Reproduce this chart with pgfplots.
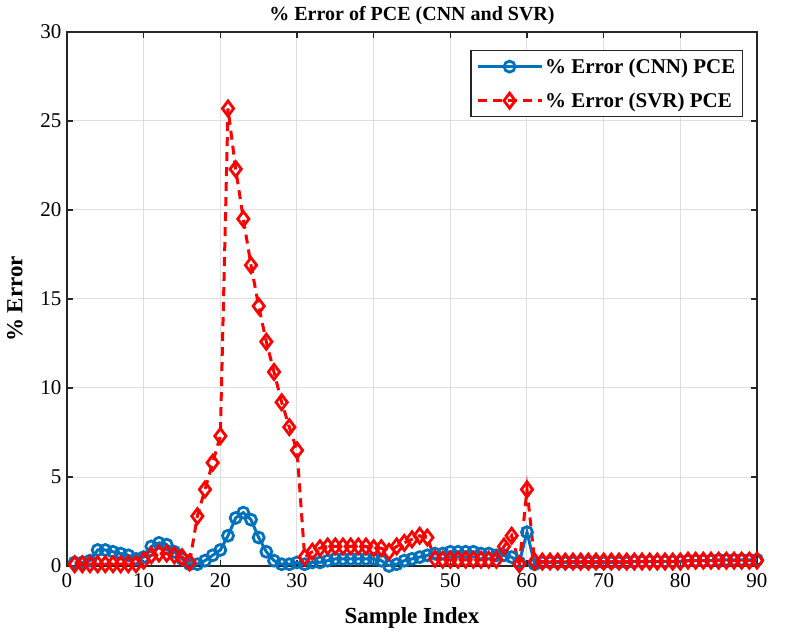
\documentclass[border=0pt]{standalone}
\usepackage{pgfplots}
\pgfplotsset{compat=1.18}
\usepackage{fontspec}
\setmainfont{Liberation Serif}
\definecolor{cnnblue}{RGB}{0,114,189}
\definecolor{svrred}{RGB}{255,0,0}
\definecolor{axgray}{RGB}{38,38,38}

\begin{document}
\begin{tikzpicture}
\useasboundingbox (-67bp,-72bp) rectangle (721bp,566bp);
\begin{axis}[
  scale only axis,
  width=690bp, height=534bp,
  xmin=0, xmax=90, ymin=0, ymax=30,
  xtick={0,10,...,90}, ytick={0,5,...,30},
  grid=major,
  grid style={gray!25, line width=1bp},
  axis line style={axgray, line width=1.2bp},
  tick style={axgray, line width=1.2bp},
  tick align=inside,
  major tick length=6bp,
  /pgf/number format/assume math mode=true,
  tick label style={font=\fontsize{21bp}{24bp}\selectfont, text=black},
  xticklabel style={yshift=-4bp},
  yticklabel style={xshift=-2bp},
  every axis title shift=0pt,
  title={\textbf{\% Error of PCE (CNN and SVR)}},
  title style={at={(axis description cs:0.5,1.030)}, anchor=center,
    font=\fontsize{20bp}{24bp}\selectfont},
  xlabel={\textbf{Sample Index}},
  xlabel style={at={(axis description cs:0.5,-0.097)}, anchor=center,
    font=\fontsize{23bp}{26bp}\selectfont},
  ylabel={\textbf{\% Error}},
  ylabel style={at={(axis description cs:-0.0754,0.5)}, anchor=center, rotate=0,
    font=\fontsize{23bp}{26bp}\selectfont},
  legend style={at={(axis description cs:0.9797,0.9663)}, anchor=north east,
    draw=axgray, line width=1.2bp, fill=white,
    font=\fontsize{21bp}{24bp}\selectfont\bfseries,
    inner xsep=5bp, inner ysep=6bp, row sep=14bp},
  legend cell align=left,
  legend image code/.code={%
    \draw[mark repeat=2, mark phase=2]
      plot coordinates {(0bp,0bp) (32bp,0bp) (64bp,0bp)};},
]
% CNN prediction error
\addplot[color=cnnblue, line width=3bp, mark=o, mark size=5.5bp,
  mark options={solid, line width=2.8bp}] coordinates {
(1,0.2)(2,0.2)(3,0.3)(4,0.9)(5,0.9)(6,0.8)(7,0.7)(8,0.6)(9,0.4)(10,0.5)
(11,1.1)(12,1.3)(13,1.2)(14,0.8)(15,0.4)(16,0.1)(17,0.1)(18,0.3)(19,0.6)(20,0.9)
(21,1.7)(22,2.7)(23,3.0)(24,2.6)(25,1.6)(26,0.8)(27,0.3)(28,0.1)(29,0.1)(30,0.2)
(31,0.1)(32,0.2)(33,0.2)(34,0.3)(35,0.4)(36,0.4)(37,0.4)(38,0.4)(39,0.4)(40,0.4)
(41,0.3)(42,0.0)(43,0.1)(44,0.3)(45,0.4)(46,0.5)(47,0.6)(48,0.7)(49,0.7)(50,0.8)
(51,0.8)(52,0.8)(53,0.8)(54,0.7)(55,0.7)(56,0.6)(57,0.6)(58,0.5)(59,0.2)(60,1.9)
(61,0.1)(62,0.2)(63,0.2)(64,0.2)(65,0.2)(66,0.2)(67,0.2)(68,0.2)(69,0.2)(70,0.2)
(71,0.2)(72,0.2)(73,0.2)(74,0.25)(75,0.25)(76,0.25)(77,0.25)(78,0.25)(79,0.25)(80,0.25)
(81,0.3)(82,0.3)(83,0.3)(84,0.3)(85,0.35)(86,0.35)(87,0.35)(88,0.35)(89,0.35)(90,0.35)
};
\addlegendentry{\% Error (CNN) PCE}
% SVR prediction error
\addplot[color=svrred, line width=3bp, dash pattern=on 9bp off 6bp,
  mark=diamond, mark size=7.5bp,
  mark options={solid, line width=2.8bp}] coordinates {
(1,0.1)(2,0.1)(3,0.1)(4,0.1)(5,0.1)(6,0.1)(7,0.1)(8,0.1)(9,0.1)(10,0.3)
(11,0.6)(12,0.7)(13,0.7)(14,0.6)(15,0.5)(16,0.2)(17,2.8)(18,4.3)(19,5.8)(20,7.3)
(21,25.7)(22,22.3)(23,19.5)(24,16.9)(25,14.6)(26,12.6)(27,10.9)(28,9.2)(29,7.8)(30,6.5)
(31,0.5)(32,0.8)(33,1.0)(34,1.1)(35,1.1)(36,1.1)(37,1.1)(38,1.1)(39,1.1)(40,1.0)
(41,1.0)(42,0.8)(43,1.1)(44,1.3)(45,1.5)(46,1.7)(47,1.6)(48,0.4)(49,0.35)(50,0.35)
(51,0.35)(52,0.35)(53,0.35)(54,0.35)(55,0.35)(56,0.35)(57,1.1)(58,1.7)(59,0.1)(60,4.3)
(61,0.25)(62,0.25)(63,0.25)(64,0.25)(65,0.25)(66,0.25)(67,0.25)(68,0.25)(69,0.25)(70,0.25)
(71,0.25)(72,0.25)(73,0.25)(74,0.25)(75,0.25)(76,0.25)(77,0.25)(78,0.25)(79,0.25)(80,0.25)
(81,0.3)(82,0.3)(83,0.3)(84,0.3)(85,0.3)(86,0.3)(87,0.3)(88,0.3)(89,0.3)(90,0.3)
};
\addlegendentry{\% Error (SVR) PCE}
\end{axis}
\end{tikzpicture}
\end{document}
